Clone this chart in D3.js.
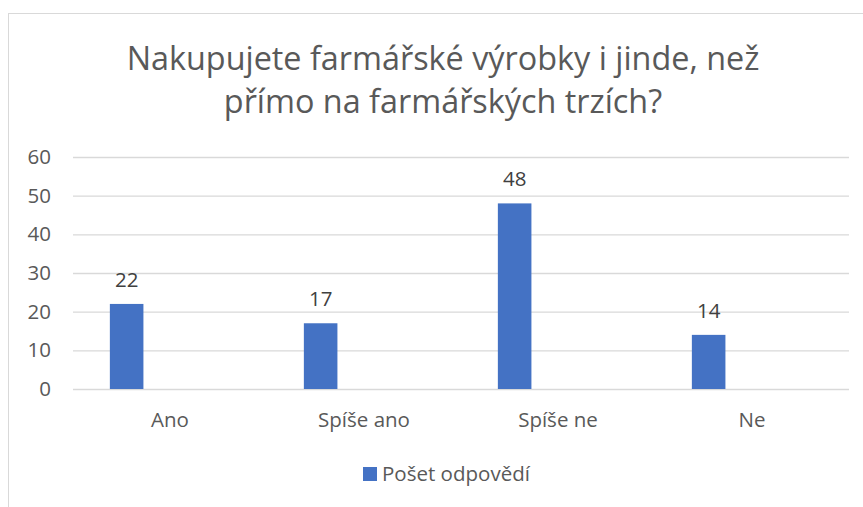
<!DOCTYPE html>
<html>
<head>
<meta charset="utf-8">
<script src="https://cdn.jsdelivr.net/npm/d3@7"></script>
<style>
    body { margin: 0; background: #fff; }
    svg { display: block; }
    svg text { font-family: "Open Sans", "Noto Sans", sans-serif; }
</style>
</head>
<body>
<svg id="chart" width="863" height="507"></svg>
<script>
var titleLines = ["Nakupujete farmářské výrobky i jinde, než", "přímo na farmářských trzích?"]
var categories = ["Ano", "Spíše ano", "Spíše ne", "Ne"]
var values = [22, 17, 48, 14]
var seriesName = "Pošet odpovědí"
var yTicks = [0, 10, 20, 30, 40, 50, 60]

var svg = d3.select("#chart")
var margin = { top: 157, right: 14, bottom: 118, left: 73 }
var width = +svg.attr("width") - margin.left - margin.right
var height = +svg.attr("height") - margin.top - margin.bottom

// scale a font size so a text hits the width seen in the screenshot
function fitSize(sel, base, target) {
    sel.style("font-size", base + "px")
    var w = sel.node().getComputedTextLength()
    return base * target / w
}

// chart border (runs past the right/bottom edge like the screenshot)
svg.append("rect")
    .attr("x", 8.5).attr("y", 13.5)
    .attr("width", 1000).attr("height", 1000)
    .attr("fill", "none")
    .attr("stroke", "#d9d9d9")

// title
var titleSize = fitSize(svg.append("text").text(titleLines[0]), 27, 633)
svg.selectAll("text").remove()
var title = svg.append("text")
    .attr("text-anchor", "middle")
    .attr("fill", "#595959")
    .style("font-size", titleSize + "px")
titleLines.forEach(function (line, i) {
    title.append("tspan")
        .attr("x", 443)
        .attr("y", 70 + i * 43)
        .text(line)
})

var probe = svg.append("text").text("Spíše ano")
var labelSize = fitSize(probe, 19, 92)
probe.remove()

var g = svg.append("g").attr("transform", translate(margin.left, margin.top))

var x = d3.scaleBand().domain(categories).range([0, width]).padding(0)
var y = d3.scaleLinear().domain([0, 60]).range([height, 0])

// gridlines + y labels
g.append("g")
    .attr("class", "y axis")
    .call(d3.axisLeft(y).tickValues(yTicks).tickSize(-width).tickPadding(22))
    .call(function (a) {
        a.attr("font-family", null).attr("font-size", null)
        a.select(".domain").remove()
        a.selectAll("line").attr("stroke", "#d9d9d9").attr("stroke-width", 1.3)
        a.selectAll("text").attr("fill", "#595959").style("font-size", labelSize + "px")
    })

// bars (sit left of band centre, as in the source)
var barOffset = x.bandwidth() * 0.19
var barWidth = x.bandwidth() * 0.173

g.selectAll(".bar")
    .data(values)
    .enter().append("rect")
    .attr("class", "bar")
    .attr("x", function (d, i) { return x(categories[i]) + barOffset })
    .attr("y", function (d) { return y(d) })
    .attr("width", barWidth)
    .attr("height", function (d) { return height - y(d) })
    .attr("fill", "#4472c4")

// data labels
g.selectAll(".label")
    .data(values)
    .enter().append("text")
    .attr("class", "label")
    .attr("x", function (d, i) { return x(categories[i]) + barOffset + barWidth / 2 })
    .attr("y", function (d) { return y(d) - 17 })
    .attr("text-anchor", "middle")
    .attr("fill", "#404040")
    .style("font-size", labelSize + "px")
    .text(function (d) { return d })

// category labels
g.append("g")
    .attr("class", "x axis")
    .attr("transform", translate(0, height))
    .call(d3.axisBottom(x).tickSize(0).tickPadding(23))
    .call(function (a) {
        a.attr("font-family", null).attr("font-size", null)
        a.select(".domain").remove()
        a.selectAll("text").attr("fill", "#595959").style("font-size", labelSize + "px")
    })

// legend
var legend = svg.append("g").attr("transform", translate(363, 467))
legend.append("rect")
    .attr("width", 14).attr("height", 14)
    .attr("fill", "#4472c4")
legend.append("text")
    .attr("x", 19).attr("y", 13.5)
    .attr("fill", "#595959")
    .style("font-size", labelSize + "px")
    .text(seriesName)

function translate(x, y) {
    return "translate(" + x + "," + y + ")";
}
</script>
</body>
</html>
